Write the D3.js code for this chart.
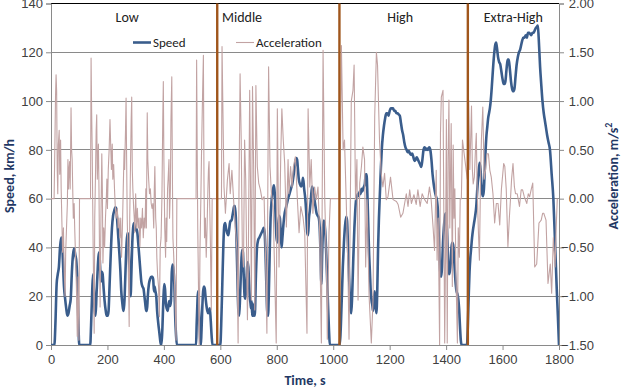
<!DOCTYPE html>
<html><head><meta charset="utf-8">
<script src="https://cdn.jsdelivr.net/npm/d3@7"></script>
<style>
html,body{margin:0;padding:0;background:#fff;}
svg{display:block;font-family:Carlito,Lato,"Open Sans",sans-serif;}
</style></head>
<body>
<svg id="chart" width="621" height="388"></svg>
<script>
// ---- data ----
const speedTime = [0,12,16,20,24,28,32,36,39,42,46,50,54,58,62,66,70,74,78,82,86,90,94,97,100,139,142,146,149,152,155,158,161,165,168,171,174,177,180,183,186,190,194,197,201,204,208,212,216,220,224,228,231,234,238,242,246,249,252,255,258,261,265,268,271,274,277,280,282,285,288,291,294,297,300,303,306,309,313,317,320,324,328,331,334,337,340,343,347,351,355,359,362,365,367,370,373,376,380,384,388,391,394,398,401,404,407,410,413,416,419,422,425,428,431,434,437,440,443,446,514,516,519,521,523,526,529,531,533,536,539,542,545,548,551,554,557,560,563,566,569,572,
600,603,607,611,614,617,620,624,628,631,634,637,640,643,646,649,652,655,658,661,664,667,670,674,677,680,683,686,689,692,695,698,701,704,707,709,711,713,715,717,719,722,726,730,734,738,742,746,750,754,757,760,763,766,769,772,775,778,781,784,787,790,793,796,799,802,805,808,811,814,817,820,824,828,832,836,840,845,850,855,860,865,869,872,875,878,882,886,890,893,897,901,904,908,911,914,917,921,925,929,933,937,941,945,949,952,955,958,961,964,967,970,973,976,979,982,985,988,
1023,1026,1030,1034,1038,1042,1046,1049,1052,1055,1058,1061,1064,1067,1071,1075,1078,1081,1084,1088,1091,1094,1097,1100,1103,1106,1109,1112,1115,1118,1121,1124,1127,1130,1133,1136,1139,1141,1144,1147,1150,1153,1156,1159,1162,1166,1169,1172,1176,1180,1184,1188,1192,1196,1200,1204,1208,1212,1216,1220,1224,1228,1232,1236,1240,1244,1248,1252,1256,1260,1264,1268,1272,1276,1280,1284,1288,1292,1296,1300,1304,1308,1312,1316,1320,1324,1328,1332,1336,1340,1344,1348,1352,1356,1360,1364,1368,1371,1374,1377,1380,1383,1386,1389,1392,1395,1398,1401,1404,1407,1410,1413,1416,1419,1422,1425,1428,1431,1434,1437,1440,1443,1446,1449,1452,1455,
1474,1477,1480,1483,1486,1489,1492,1495,1499,1503,1507,1510,1513,1516,1519,1522,1525,1528,1531,1534,1537,1540,1543,1546,1549,1552,1555,1558,1562,1566,1570,1574,1577,1580,1584,1588,1592,1596,1600,1604,1607,1610,1614,1618,1622,1626,1630,1634,1638,1642,1646,1650,1654,1658,1662,1666,1670,1674,1678,1682,1686,1690,1694,1698,1702,1706,1710,1714,1718,1722,1725,1728,1733,1737,1741,1746,1750,1754,1758,1763,1768,1774,1780,1786,1792,1796,1800];
const speedValue = [0,0,10,25,29,32,40,44,43,35,24,19,15,12,13,16,19,30,37,39.5,37,34,25,10,0,0,8,22,29,22,14,12,20,30,36,38,32,26,30,29,24,18,14,12,12,14,26,38,48,53,55,56.5,56,52,45,38,30,22,18,15,14,20,34,42,46,44,34,24,20,30,42,48,50,48,47,47.5,46,42,36,30,26,24,23,20,17,14,14,20,25,27,28,28,27,22,24,22,20,14,9,5,1,0,5,18,25,23,17,15,14,16,18,16,18,30,33,31,25,12,4,0,0,8,18,22,18,10,2,0,5,15,22,24,23,19,16,14,13,14,15,10,4,0,
0,8,25,42,49,50,48,46,45,47,50,51,51,53,55,57,57,52,40,25,14,12,20,33,39,38,28,20,19,25,32,34,28,20,17,15,18,12,17,12,15,12,28,40,43,44,45,46,47,48,46,38,25,14,12,22,38,52,58,62,64,65.5,62,52,44,42,48,53,52,46,40,44,50,54,56,58,60,62,64,66,70,74,76.6,76,72,68,66,65,66,68.5,64,60,55,46,45,52,55,60,65,63,60,57,54,53,52,48,38,25,38,48,51,49,44,35,25,15,6,0,
0,5,18,32,42,49,52.6,51,42,32,22,15,13,20,35,48,55,59.5,61,62,61,63,62,64,63,64,65,66,70,70,62,50,38,30,22,18,16,14,18,22,16,13,22,40,52,64,73,80,86,90,93,95,95,94,96,97,97,97,96,96,95,95,94.5,94,91,88,86,83,81,80,79,79.5,78.5,78,78.5,77,75.5,76,77,76,75,74,73,76,80,81,80,80.5,80,81,80,76,70,66,63,61,59,55,45,35,29,28,33,42,48,52,54,52,45,35,29,30,33,40,42,41,36,30,25,22,21,19,15,8,2,0,
0,8,20,30,36,40,44,47,50,53,57,63,68,72,74.7,72,66,62,61,64,72,80,86,89.5,93,95,97,100,106,113,119,123,124,122,118,116,115,112,109,107,107,108,113,117,117,113,108,105,104,105,110,115,118,120,121,123,125,126,126,127,126,128,128,127.5,127,128,128,129,130,130.5,131,126,114,107,100.6,95,92,89,86,83,80,70,60,42,23,12,0];

const accelTime = [0,11,14,16,18,20,22,24,26,29,31,34,36,39,41,44,47,50,52,55,58,60,62,64,66,68,71,73,75,77,79,82,84,87,90,93,96,99,101,140,142,144,146,149,151,153,155,158,160,162,164,166,168,170,172,174,177,180,182,184,187,190,193,196,198,200,203,206,209,211,214,217,219,222,225,228,231,235,238,241,244,247,250,253,256,259,261,264,266,268,270,273,275,277,279,282,284,286,288,290,293,295,297,300,303,306,309,312,315,318,321,324,327,330,333,336,338,341,343,346,349,352,355,358,361,364,366,368,371,373,375,378,381,384,387,390,393,396,398,400,403,406,408,410,413,415,418,420,423,425,428,430,432,435,438,440,443,446,514,516,518,520,523,525,528,531,533,536,538,540,542,544,547,550,553,556,558,560,562,565,568,571,
604,606,613,618,625,631,635,641,647,653,659,663,666,670,674,678,682,686,690,696,699,704,707,710,714,718,722,726,731,736,742,748,755,761,765,771,776,781,787,792,798,802,808,814,818,823,828,834,840,843,849,854,859,866,873,879,885,893,899,907,911,917,922,928,934,940,946,952,958,964,970,976,979,985,990,
1024,1029,1035,1040,1046,1052,1056,1064,1070,1074,1079,1084,1088,1094,1100,1105,1111,1115,1120,1127,1135,1141,1147,1153,1157,1164,1170,1176,1182,1188,1194,1203,1212,1224,1230,1239,1247,1259,1265,1271,1277,1286,1294,1300,1308,1315,1324,1333,1341,1347,1354,1359,1365,1368,1372,1377,1380,1383,1389,1395,1398,1401,1404,1407,1410,1413,1418,1422,1425,1428,1431,1435,1440,1443,1447,1450,1454,1458,1475,
1477,1480,1484,1487,1490,1493,1496,1500,1504,1507,1510,1514,1518,1522,1525,1530,1535,1540,1545,1550,1555,1560,1566,1572,1578,1584,1590,1596,1604,1608,1613,1619,1624,1628,1632,1637,1642,1646,1652,1660,1666,1671,1677,1686,1691,1696,1702,1707,1714,1721,1729,1737,1742,1746,1754,1761,1769,1774,1780,1786,1790,1794,1797,1800];
const accelValue = [0,0,0.6,1.05,1.27,1.1,0.3,0.05,0.55,0.7,0.25,0.6,0.1,-0.29,-0.55,-0.3,-0.75,-1.0,-0.55,-0.3,-0.05,0.4,0.1,0.3,0.38,0.1,0.93,0.5,0.4,0.1,-0.2,-0.05,-0.3,-0.6,-0.9,-1.41,-0.8,-1.45,0,0,1.44,0.9,0.5,-0.4,-0.9,-1.38,-0.2,0.3,0.7,0.86,0.2,0.4,0.56,0.1,-0.6,-1.11,-0.2,0.46,0.1,-0.66,-0.3,-0.5,-0.2,0,0.2,-0.1,0.3,0.5,0.81,0.6,0.3,0.56,0.2,0.35,0.1,-0.1,-0.2,-0.1,-0.3,-0.2,-0.4,-0.2,-0.6,-0.3,0.1,0.5,0.3,0.7,1.03,0.4,-0.2,-0.6,-0.9,-1.31,-0.2,0.4,0.8,1.04,0.3,0.1,-0.1,-0.2,-0.35,0.05,-0.3,-0.1,-0.3,-0.2,-0.49,-0.2,-0.3,-0.1,-0.4,-0.2,-0.3,0.1,-0.3,0.88,0.4,0.2,0.05,0.1,-0.05,-0.1,-0.05,-0.3,0.1,0.33,-0.2,-0.3,-0.6,-0.8,-0.9,-1.21,-0.5,-0.4,0,0.8,1.2,0.4,-0.3,-0.6,-0.2,-0.44,0.1,0.2,0.4,-0.2,0.1,0.8,1.25,0.3,-0.4,-0.6,-0.9,-1.1,-1.45,0,0,1.42,0.5,-0.3,-1.0,-1.5,-0.5,0,0.4,0.9,1.2,1.47,0.2,-0.4,-0.2,-0.6,-0.3,0.1,0.3,0.38,0,-0.5,-1.14,0,
0,1.56,0.12,-0.15,0.19,0.36,0.05,0.29,-0.01,-0.29,-0.53,-1.48,0.05,1.28,0.6,-0.53,-0.7,0.6,0.19,-1.24,-0.67,1.11,0.12,-1.04,1.15,0.33,-1.14,1.16,0.33,0.16,0.09,-0.01,0.02,-0.7,-1.38,1.35,0.33,0.05,-0.08,-0.7,-1.48,0.92,-0.7,0.43,0.92,0.6,0.36,-0.29,0.4,0.05,0.33,0.12,0.33,0.43,-0.01,-0.35,-0.08,-0.19,-0.35,-1.38,0.92,0.12,0.4,-0.15,0.12,-0.01,0.12,-0.35,-1.48,1.52,-0.01,-0.7,-1.44,-0.35,0,
0,1.57,0.5,0.6,-0.01,-0.7,-1.44,1.0,1.11,1.37,-0.01,0.4,-1.04,0.16,0.33,0.53,0.4,-0.7,-0.01,-0.99,-1.48,-1.04,0.84,1.5,1.37,0.6,0.26,0.12,0.26,-0.01,0.02,0.22,-0.01,-0.03,-0.06,-0.19,-0.15,0.05,-0.08,0.09,-0.05,0.04,-0.06,0.09,-0.08,0.05,-0.01,-0.05,0.12,-0.01,-0.3,-0.53,0.29,-0.63,-0.2,-1.5,0.67,1.04,1.11,-1.48,-0.53,0.81,-1.48,0.4,1.01,-0.3,0.77,-0.9,0.55,-0.2,0.1,-0.8,-1.48,-0.3,-0.6,0,0,
0.6,0.2,0.8,1.01,0.3,0.6,0.95,0.3,0.15,0.22,0.5,0.67,0.1,-0.3,-0.63,0.2,0.6,0.94,0.2,0.3,0.46,0.46,0.29,0.22,0.05,-0.25,-0.05,-0.05,-0.27,0.1,0.36,0.33,0.1,-0.49,-0.2,-0.01,0.2,0.36,0.12,0.05,0.05,-0.08,0.09,0.09,0.02,-0.05,0.05,0.02,0.1,0.16,-0.7,-0.67,-0.25,-0.22,-0.15,-0.15,-0.22,-0.87,-0.67,-0.97,-0.4,-0.7,-0.3,0];

const speedTicks = [0,20,40,60,80,100,120,140];
const accelTicks = [-1.5,-1.0,-0.5,0,0.5,1.0,1.5,2.0];
const timeTicks = [0,200,400,600,800,1000,1200,1400,1600,1800];
const phaseBounds = [589,1022,1477];
const phaseNames = ["Low","Middle","High","Extra-High"];
const phaseLabelTime = [270,677,1237,1638];
const legendNames = ["Speed","Acceleration"];

// ---- chart ----
const svg = d3.select("#chart");
const L = 51, R = 559, T = 3.5, B = 345;
const x = d3.scaleLinear().domain([0,1800]).range([L,R]);
const yS = d3.scaleLinear().domain([0,140]).range([B,T]);
const yA = d3.scaleLinear().domain([-1.5,2]).range([B,T]);
const gridCol = "#8a8a8a", textCol = "#404040", titleCol = "#1f3864";
const speedCol = "#3a5d8c", accelCol = "#c2a3a3", phaseCol = "#a0561c";

svg.append("defs").append("clipPath").attr("id","clip")
  .append("rect").attr("x",L).attr("y",T-1).attr("width",R-L).attr("height",B-T+1);

// gridlines
svg.append("g").selectAll("line").data(speedTicks.slice(1,-1)).join("line")
  .attr("x1",L).attr("x2",R).attr("y1",d=>yS(d)).attr("y2",d=>yS(d))
  .attr("stroke",gridCol).attr("stroke-width",1).attr("shape-rendering","crispEdges");
svg.append("line").attr("x1",L).attr("x2",R).attr("y1",yS(140)).attr("y2",yS(140))
  .attr("stroke","#000").attr("stroke-width",1.2);

// axes
const axL = svg.append("g").attr("transform",`translate(${L},0)`)
  .call(d3.axisLeft(yS).tickValues(speedTicks).tickSize(5).tickPadding(3));
const axR = svg.append("g").attr("transform",`translate(${R},0)`)
  .call(d3.axisRight(yA).tickValues(accelTicks).tickFormat(d3.format(".2f")).tickSize(5).tickPadding(3));
const axB = svg.append("g").attr("transform",`translate(0,${B})`)
  .call(d3.axisBottom(x).tickValues(timeTicks).tickFormat(d3.format("d")).tickSize(5).tickPadding(5));
[axL,axR,axB].forEach(a=>{
  a.selectAll("path,line").attr("stroke",gridCol);
  a.selectAll("text").attr("fill",textCol).style("font-size","13px");
});
axR.selectAll("text").attr("text-anchor","end").attr("x",35);

// series
const speedData = speedTime.map((t,i)=>[t,speedValue[i]]);
const accelData = accelTime.map((t,i)=>[t,accelValue[i]]);
const gPlot = svg.append("g").attr("clip-path","url(#clip)");
gPlot.append("path").datum(speedData)
  .attr("d",d3.line().x(d=>x(d[0])).y(d=>yS(d[1])).curve(d3.curveMonotoneX))
  .attr("fill","none").attr("stroke",speedCol).attr("stroke-width",2.6).attr("stroke-linejoin","round");
gPlot.append("path").datum(accelData)
  .attr("d",d3.line().x(d=>x(d[0])).y(d=>yA(d[1])))
  .attr("fill","none").attr("stroke",accelCol).attr("stroke-width",1.1).attr("stroke-linejoin","round");

// phase dividers
svg.append("g").selectAll("line").data(phaseBounds).join("line")
  .attr("x1",d=>x(d)).attr("x2",d=>x(d)).attr("y1",T).attr("y2",B)
  .attr("stroke",phaseCol).attr("stroke-width",2.4);

// phase labels
svg.append("g").selectAll("text").data(phaseNames).join("text")
  .attr("x",(d,i)=>x(phaseLabelTime[i])).attr("y",22).attr("text-anchor","middle")
  .attr("fill","#222").style("font-size","14px").text(d=>d);

// legend
const lg = svg.append("g");
const legX = [133,236], legTX = [153,256];
legendNames.forEach((n,i)=>{
  lg.append("line").attr("x1",legX[i]).attr("x2",legX[i]+18).attr("y1",42.5).attr("y2",42.5)
    .attr("stroke",i===0?speedCol:accelCol).attr("stroke-width",i===0?2.6:1.1);
  lg.append("text").attr("x",legTX[i]).attr("y",47).attr("fill","#222")
    .style("font-size","13px").text(n);
});

// axis titles
svg.append("text").attr("transform","translate(14,176) rotate(-90)").attr("text-anchor","middle")
  .attr("fill",titleCol).style("font-size","14px").style("font-weight","bold").text("Speed, km/h");
svg.append("text").attr("x",305).attr("y",385).attr("text-anchor","middle")
  .attr("fill",titleCol).style("font-size","14px").style("font-weight","bold").text("Time, s");
const at = svg.append("text").attr("transform","translate(618,176) rotate(-90)").attr("text-anchor","middle")
  .attr("fill",titleCol).style("font-size","14px").style("font-weight","bold");
at.append("tspan").text("Acceleration, m/s");
at.append("tspan").attr("dy",-6).style("font-size","10px").text("2");
</script>
</body></html>
